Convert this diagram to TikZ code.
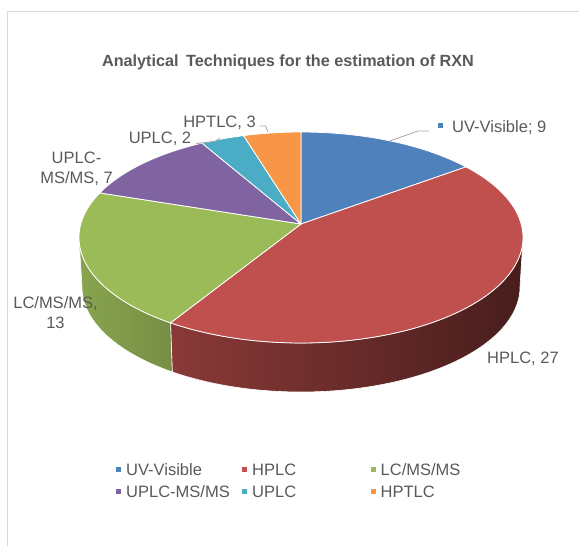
\documentclass[tikz,border=0pt]{standalone}
\usepackage{fontspec}
\setmainfont{Liberation Sans}
\definecolor{uvc}{HTML}{4F81BD}
\definecolor{hplcc}{HTML}{C0504D}
\definecolor{lcc}{HTML}{9BBB59}
\definecolor{upmsc}{HTML}{8064A2}
\definecolor{uplcc}{HTML}{4BACC6}
\definecolor{hptlcc}{HTML}{F79646}
\definecolor{txt}{HTML}{595959}
\definecolor{framec}{HTML}{D9D9D9}
\definecolor{leadc}{HTML}{A6A6A6}
\begin{document}
\begin{tikzpicture}[x=1pt,y=-1pt,
  lbl/.style={font=\fontsize{16.5}{20}\selectfont, text=txt, inner sep=0pt, align=center},
  leg/.style={font=\fontsize{16.5}{20}\selectfont, text=txt, inner sep=0pt, anchor=west, text height=11.8pt, text depth=0pt},
  mk/.style={minimum size=5pt, inner sep=0pt, draw=none},
  slice/.style={draw=white, line width=0.8pt, line join=round},
  leader/.style={draw=leadc, line width=0.8pt}]
\useasboundingbox (0,0) rectangle (579,546);
% frame
\draw[framec, line width=1.5pt] (7.5,546) -- (7.5,11.5) -- (579,11.5);
% title
\node[lbl, font=\bfseries\fontsize{16.2}{20}\selectfont] (title) at (288,62) {Analytical\hspace{3pt} Techniques for the estimation of RXN};
% sides
\shade[left color=hplcc!72!black, middle color=hplcc!48!black, right color=hplcc!37!black, draw=white, line width=0.6pt]
  plot[domain=234:360, samples=60] ({301+222*cos(\x)},{237.5-105.5*sin(\x)})
  -- plot[domain=360:234, samples=60] ({301+219*cos(\x)},{287-105*sin(\x)}) -- cycle;
\shade[left color=lcc!88!black, right color=lcc!76!black, draw=white, line width=0.6pt]
  plot[domain=180:234, samples=40] ({301+222*cos(\x)},{237.5-105.5*sin(\x)})
  -- plot[domain=234:180, samples=40] ({301+219*cos(\x)},{287-105*sin(\x)}) -- cycle;
% top slices
\coordinate (apex) at (301,224);
\fill[uvc, slice] (apex) -- plot[domain=42:90, samples=40] ({301+222*cos(\x)},{237.5-105.5*sin(\x)}) -- cycle;
\fill[hplcc, slice] (apex) -- plot[domain=-126:42, samples=120] ({301+222*cos(\x)},{237.5-105.5*sin(\x)}) -- cycle;
\fill[lcc, slice] (apex) -- plot[domain=155:234, samples=60] ({301+222*cos(\x)},{237.5-105.5*sin(\x)}) -- cycle;
\fill[upmsc, slice] (apex) -- plot[domain=116.5:155, samples=30] ({301+222*cos(\x)},{237.5-105.5*sin(\x)}) -- cycle;
\fill[uplcc, slice] (apex) -- plot[domain=105:116.5, samples=15] ({301+222*cos(\x)},{237.5-105.5*sin(\x)}) -- cycle;
\fill[hptlcc, slice] (apex) -- plot[domain=90:105, samples=15] ({301+222*cos(\x)},{237.5-105.5*sin(\x)}) -- cycle;
% data labels
\node[lbl] (lhptlc) at (219.5,123) {HPTLC, 3};
\node[lbl] (luplc) at (160,139) {UPLC, 2};
\node[lbl] (lupms) at (76.5,169) {UPLC-\\MS/MS, 7};
\node[lbl] (llc) at (55.5,313) {LC/MS/MS,\\13};
\node[lbl] (lhplc) at (523,359) {HPLC, 27};
\node[mk, fill=uvc] (luvmk) at (440.5,125.5) {};
\node[leg] (luv) at (452,126.5) {UV-Visible; 9};
% leader lines
\coordinate (h1) at (259.5,126); \coordinate (h2) at (265.5,126); \coordinate (h3) at (268,132);
\draw[leader] (h1) -- (h2) -- (h3);
\coordinate (u1) at (196,143.5); \coordinate (u2) at (215,141.5); \coordinate (u3) at (220,138);
\draw[leader] (u1) -- (u2) -- (u3);
\coordinate (v1) at (390,141); \coordinate (v2) at (418,131); \coordinate (v3) at (429,131);
\draw[leader] (v1) -- (v2) -- (v3);
% legend
\node[mk, fill=uvc] (m1) at (118.5,469.5) {};
\node[leg] (t1) at (126,469.5) {UV-Visible};
\node[mk, fill=hplcc] (m2) at (244.5,469.5) {};
\node[leg] (t2) at (252,469.5) {HPLC};
\node[mk, fill=lcc] (m3) at (373,469.5) {};
\node[leg] (t3) at (380.5,469.5) {LC/MS/MS};
\node[mk, fill=upmsc] (m4) at (118.5,491.5) {};
\node[leg] (t4) at (126,491.5) {UPLC-MS/MS};
\node[mk, fill=uplcc] (m5) at (244.5,491.5) {};
\node[leg] (t5) at (252,491.5) {UPLC};
\node[mk, fill=hptlcc] (m6) at (373,491.5) {};
\node[leg] (t6) at (380.5,491.5) {HPTLC};
\end{tikzpicture}
\end{document}
